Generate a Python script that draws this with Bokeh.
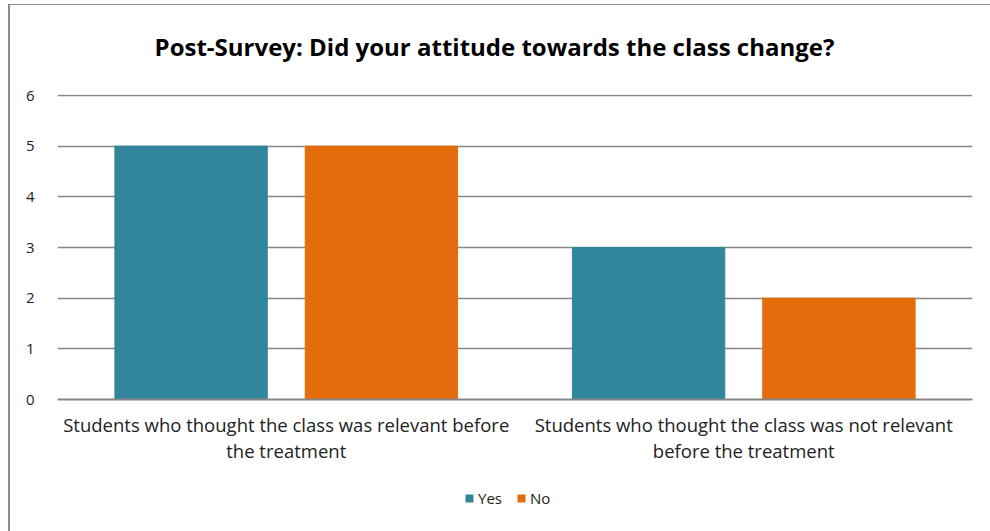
from bokeh.plotting import figure
from bokeh.layouts import column
from bokeh.models import Range1d, FixedTicker, Legend, LegendItem, Label
from bokeh.embed import file_html
from bokeh.resources import INLINE

title_text = "Post-Survey: Did your attitude towards the class change?"
categories = ["Students who thought the class was relevant before\nthe treatment",
              "Students who thought the class was not relevant\nbefore the treatment"]
series_names = ["Yes", "No"]
yes_values = [5, 3]
no_values = [5, 2]
y_ticks = [0, 1, 2, 3, 4, 5, 6]

TEAL = "#31859C"
ORANGE = "#E46C0A"
FONT = "Open Sans"
BORDER = "#8c8c8c"


def blank(fig):
    fig.xgrid.grid_line_color = None
    fig.ygrid.grid_line_color = None
    fig.outline_line_color = None


# title strip
tf = figure(width=983, height=60, output_backend="svg", toolbar_location=None,
            x_range=Range1d(0, 1), y_range=Range1d(0, 1),
            x_axis_type=None, y_axis_type=None, min_border=0,
            min_border_left=0, min_border_right=0, min_border_top=0, min_border_bottom=0)
tf.styles = {"border-top": "1px solid " + BORDER, "border-left": "2px solid " + BORDER,
             "margin-left": "8px", "margin-top": "4px"}
blank(tf)
tf.add_layout(Label(x=437, y=19, x_units="screen", y_units="screen", text=title_text,
                    text_align="center", text_baseline="middle",
                    text_font=FONT, text_font_size="24px", text_font_style="bold",
                    text_color="#000000"))

# main chart
p = figure(frame_width=913, frame_height=305, output_backend="svg", toolbar_location=None,
           x_range=Range1d(0, 2), y_range=Range1d(0, 6.02),
           min_border_left=47, min_border_right=21, min_border_top=30, min_border_bottom=81)
p.styles = {"border-left": "2px solid " + BORDER, "margin-left": "8px"}

centers = [i + 0.5 for i in range(len(categories))]
bw = 0.333
off = 0.208
yes_x = [c - off for c in centers]
no_x = [c + off for c in centers]
p.vbar(x=yes_x, top=yes_values, width=bw, color=TEAL)
p.vbar(x=no_x, top=no_values, width=bw, color=ORANGE)

p.xaxis.ticker = FixedTicker(ticks=centers)
p.xaxis.major_label_overrides = {c: lab for c, lab in zip(centers, categories)}
p.xaxis.major_label_text_font = FONT
p.xaxis.major_label_text_font_size = "18.5px"
p.xaxis.major_label_text_color = "#222222"
p.xaxis.major_label_text_line_height = 1.05
p.xaxis.major_label_standoff = 6
p.xaxis.major_tick_line_color = None
p.xaxis.minor_tick_line_color = None
p.xaxis.axis_line_color = "#868686"
p.xaxis.axis_line_width = 2

p.yaxis.ticker = FixedTicker(ticks=y_ticks)
p.yaxis.axis_line_color = None
p.yaxis.major_tick_line_color = None
p.yaxis.minor_tick_line_color = None
p.yaxis.major_label_text_font = FONT
p.yaxis.major_label_text_font_size = "15px"
p.yaxis.major_label_text_color = "#222222"
p.yaxis.major_label_standoff = 17

p.xgrid.grid_line_color = None
p.ygrid.ticker = FixedTicker(ticks=y_ticks)
p.ygrid.grid_line_color = "#868686"
p.ygrid.grid_line_width = 1.5
p.outline_line_color = None

# legend strip below the chart (same border on the left)
lg = figure(width=983, height=51, output_backend="svg", toolbar_location=None,
            x_range=Range1d(10, 11), y_range=Range1d(100, 101),
            x_axis_type=None, y_axis_type=None, min_border=0,
            min_border_left=0, min_border_right=0, min_border_top=0, min_border_bottom=0)
lg.styles = {"border-left": "2px solid " + BORDER, "margin-left": "8px"}
blank(lg)
r_yes = lg.vbar(x=yes_x, top=yes_values, width=bw, fill_color=TEAL, line_color=None)
r_no = lg.vbar(x=no_x, top=no_values, width=bw, fill_color=ORANGE, line_color=None)

legend = Legend(items=[LegendItem(label=series_names[0], renderers=[r_yes]),
                       LegendItem(label=series_names[1], renderers=[r_no])],
                orientation="horizontal", location=(407, 23),
                label_text_font=FONT, label_text_font_size="15px", label_text_color="#222222",
                glyph_width=10, glyph_height=10, spacing=14, label_standoff=4,
                border_line_color=None, background_fill_alpha=0, margin=0, padding=0)
lg.add_layout(legend, "center")

layout = column(tf, p, lg, spacing=0)
open("out.html", "w").write(file_html(layout, INLINE))
